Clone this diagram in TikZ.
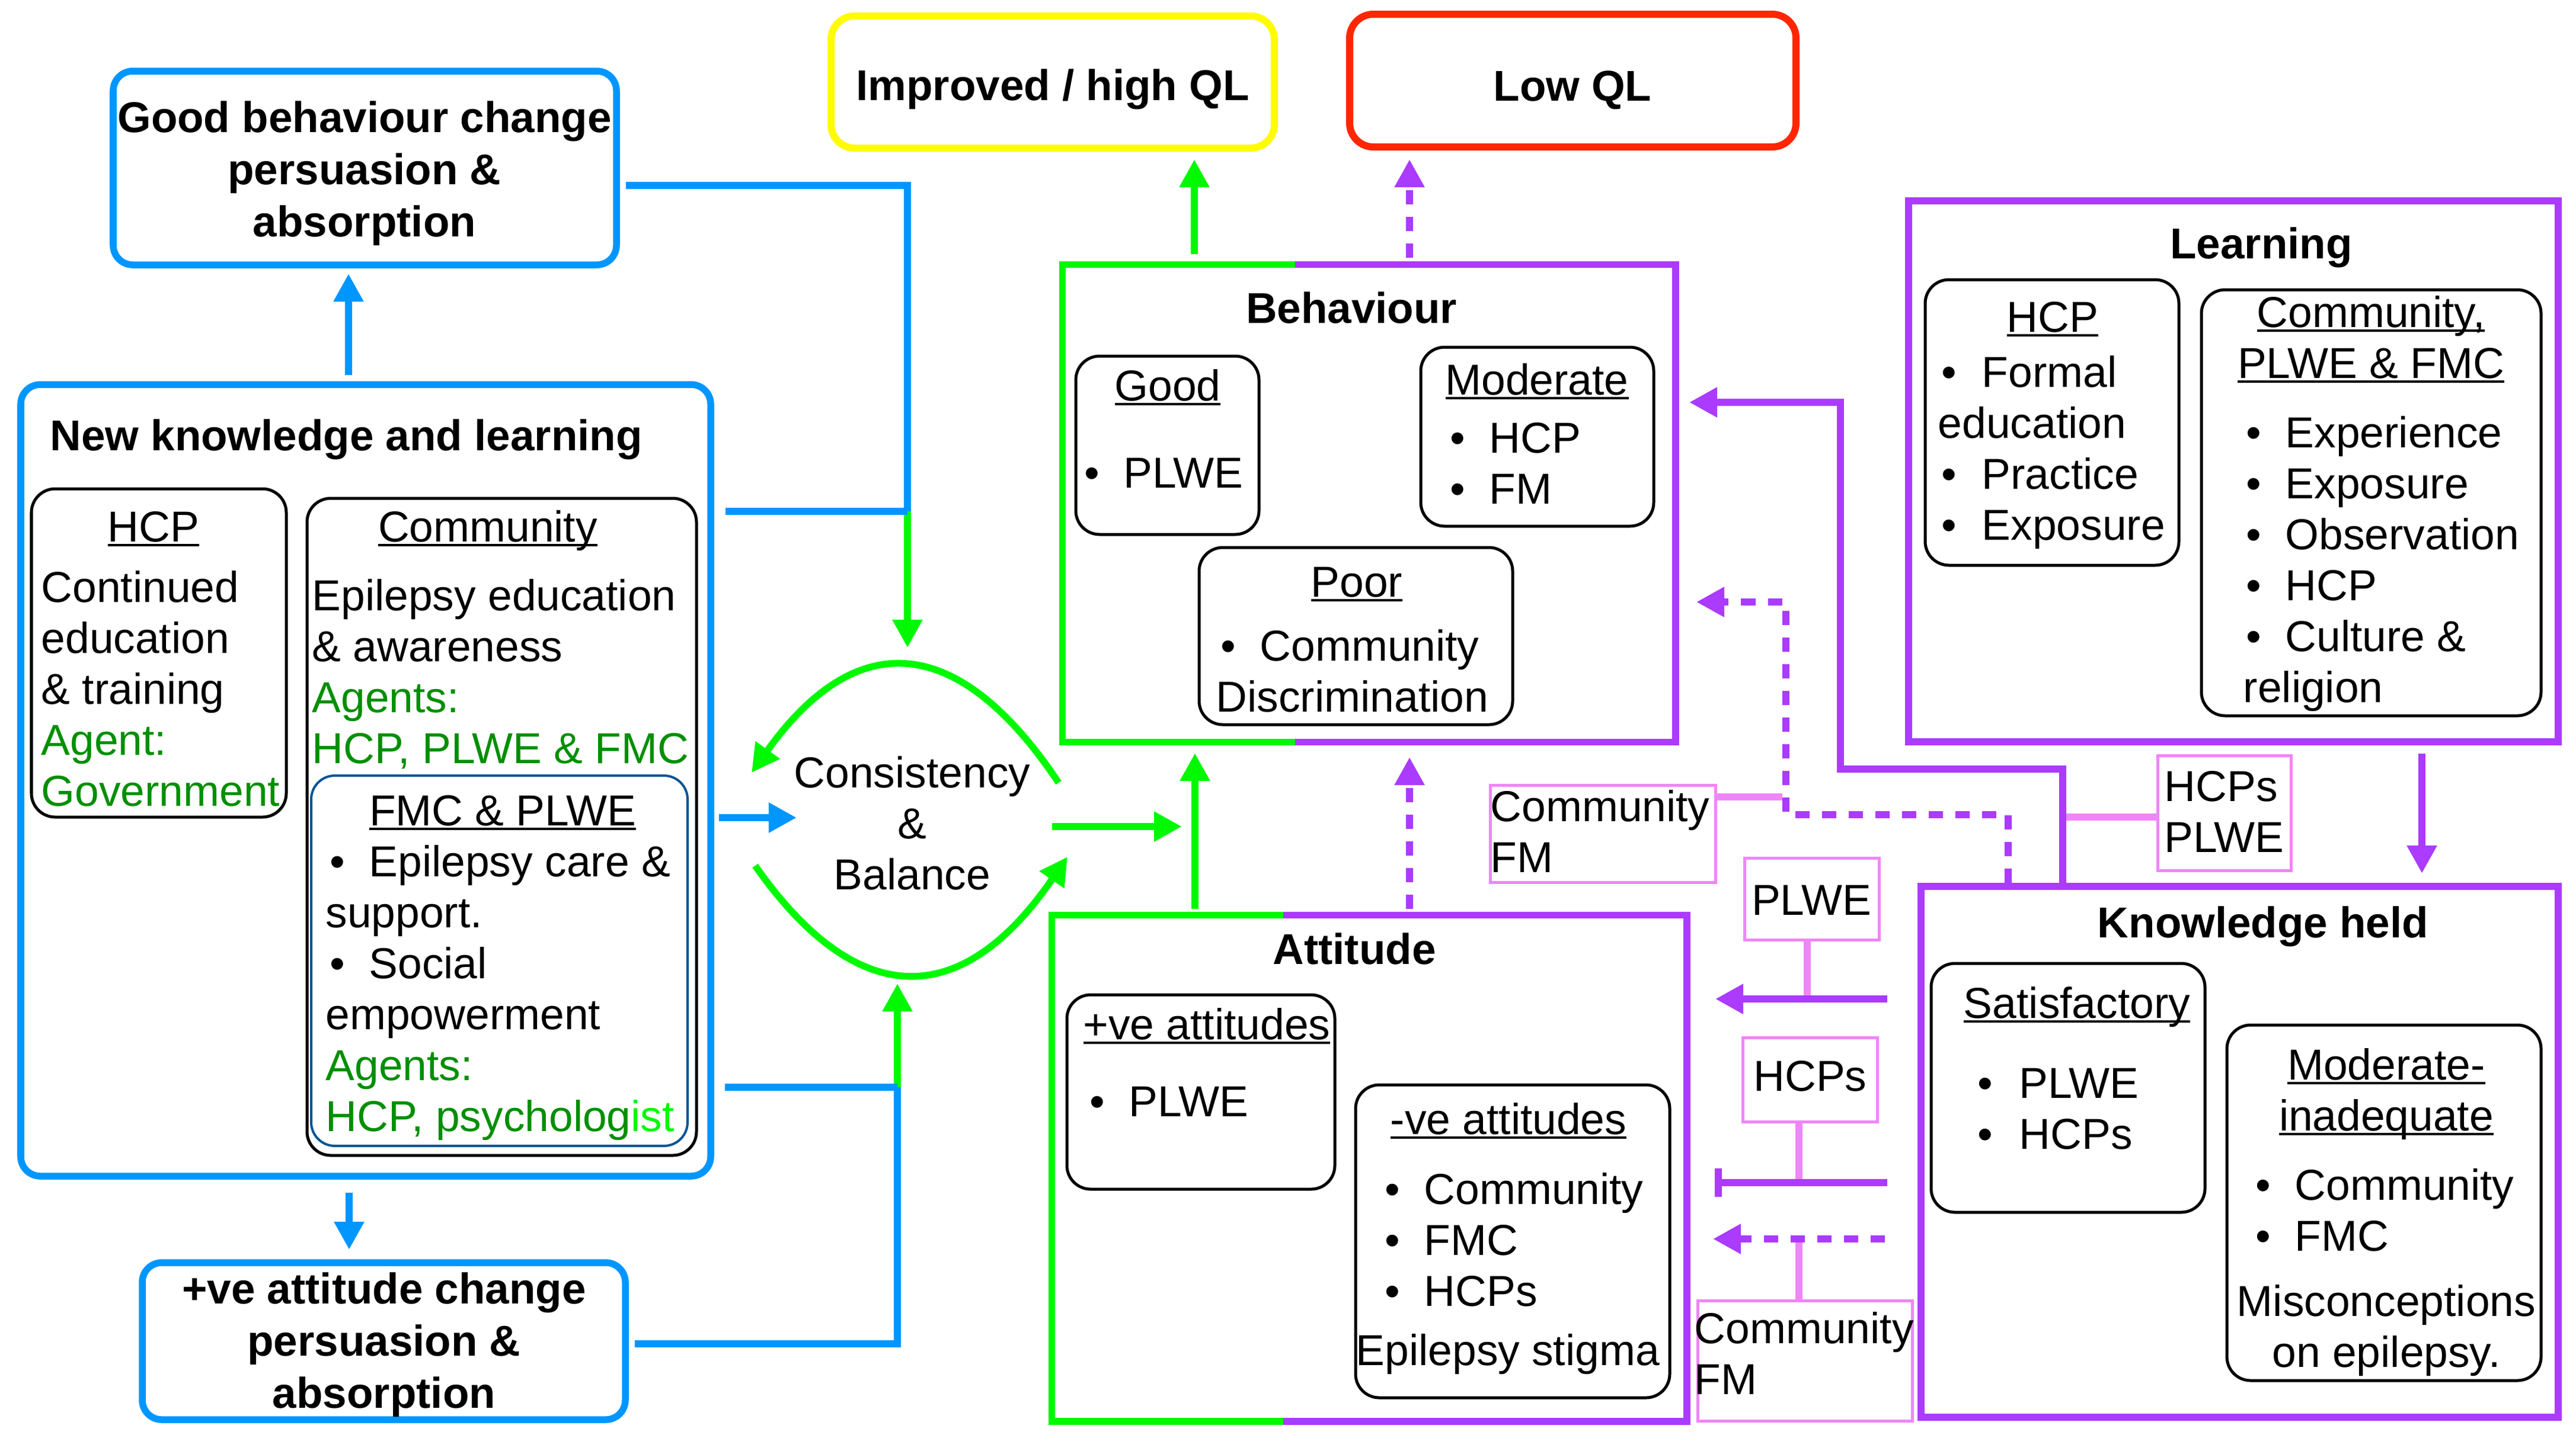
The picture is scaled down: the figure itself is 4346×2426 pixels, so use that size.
\documentclass[tikz,border=0pt]{standalone}
\usepackage{fontspec}
\setmainfont{Liberation Sans}
\usetikzlibrary{arrows.meta,fit}
\definecolor{cblue}{HTML}{0096FF}
\definecolor{cgreen}{HTML}{00F900}
\definecolor{cpurple}{HTML}{AA3BFF}
\definecolor{cpink}{HTML}{EF86F7}
\definecolor{cyellow}{HTML}{FFFB00}
\definecolor{cred}{HTML}{FF2600}
\definecolor{dkgreen}{HTML}{008F00}
\definecolor{ocean}{HTML}{005493}
\newcommand\LB[1]{\vtop{\halign{##\hfil\cr#1\crcr}}}
\newcommand\CB[1]{\vtop{\halign{\hfil##\hfil\cr#1\crcr}}}
\newcommand\myul[1]{\setbox0\hbox{#1}\rlap{\vrule width\wd0 height -1.1pt depth 2.3pt}\box0}
\newcommand\mybl{\makebox[0.66cm][l]{\textbullet}}
\newcommand\myblw[1]{\makebox[#1][l]{\textbullet}}
\newcommand\dgr[1]{{\color{dkgreen}#1}}
\newcommand\lgr[1]{{\color{cgreen}#1}}
\tikzset{
  tx/.style={inner sep=0pt, font=\fontsize{20.8pt}{24.5pt}\selectfont, anchor=base west},
  ctx/.style={tx, anchor=base},
  btx/.style={inner sep=0pt, anchor=base, font=\fontsize{20.7pt}{25.1pt}\selectfont\bfseries},
  bbox/.style={draw=cblue, line width=0.115cm, rounded corners=0.33cm, inner sep=0pt},
  kbox/.style={draw=black, line width=0.05cm, rounded corners=0.4cm, inner sep=0pt},
  pbox/.style={draw=cpink, line width=0.05cm, inner sep=0pt},
  pfr/.style={draw=cpurple, line width=0.115cm, inner sep=0pt},
  frm/.style={inner sep=0pt},
  bline/.style={draw=cblue, line width=0.115cm},
  gline/.style={draw=cgreen, line width=0.115cm},
  pline/.style={draw=cpurple, line width=0.115cm},
  pdash/.style={pline, dash pattern=on 0.24cm off 0.21cm},
  pkline/.style={draw=cpink, line width=0.115cm},
  arr/.style={-{Triangle[length=0.47cm,width=0.48cm]}},
}
\begin{document}
\begin{tikzpicture}[x=0.01cm,y=-0.01cm]
\useasboundingbox (0,0) rectangle (4346,2426);

% ---------- boxes ----------
\node[bbox, fit={(191,120)(1040,447)}] (gb) {};
\node[bbox, fit={(35,649)(1199,1985)}] (nkl) {};
\node[kbox, fit={(53,825)(483,1379)}] (hcpL) {};
\node[kbox, fit={(518,841)(1175,1950)}] (comL) {};
\node[kbox, draw=ocean, line width=0.04cm, fit={(525,1309)(1160,1934)}] (fmc) {};
\node[bbox, fit={(240,2131)(1055,2396)}] (pa) {};
\node[draw=cyellow, line width=0.12cm, rounded corners=0.4cm, inner sep=0pt, fit={(1402,27)(2150,250)}] (imp) {};
\node[draw=cred, line width=0.12cm, rounded corners=0.4cm, inner sep=0pt, fit={(2277,24)(3030,248)}] (low) {};
\node[frm, fit={(1793,447)(2826,1252)}] (beh) {};
\node[kbox, fit={(1815,601)(2124,902)}] (good) {};
\node[kbox, fit={(2397,586)(2790,888)}] (mod) {};
\node[kbox, fit={(2023,924)(2552,1223)}] (poor) {};
\node[frm, fit={(1775,1545)(2845,2398)}] (att) {};
\node[kbox, fit={(1800,1679)(2252,2007)}] (pos) {};
\node[kbox, fit={(2287,1831)(2817,2359)}] (neg) {};
\node[pfr, fit={(3220,339)(4316,1252)}] (lrn) {};
\node[kbox, fit={(3248,472)(3676,954)}] (lhcp) {};
\node[kbox, fit={(3714,489)(4287,1208)}] (lcom) {};
\node[pfr, fit={(3241,1496)(4316,2392)}] (kh) {};
\node[kbox, fit={(3258,1626)(3720,2046)}] (sat) {};
\node[kbox, fit={(3757,1730)(4287,2330)}] (mi) {};
\node[pbox, fit={(2514,1325)(2894,1489)}] (cfa) {};
\node[pbox, fit={(2943,1448)(3170,1586)}] (plw) {};
\node[pbox, fit={(2940,1751)(3167,1893)}] (hcs) {};
\node[pbox, fit={(2864,2195)(3226,2398)}] (cfb) {};
\node[pbox, fit={(3640,1275)(3865,1469)}] (hpl) {};

% two-coloured frames
\coordinate (bsp) at (2185,0);
\draw[gline] (bsp |- beh.north) -- (beh.north west) -- (beh.south west) -- (bsp |- beh.south);
\draw[pline] (bsp |- beh.north) -- (beh.north east) -- (beh.south east) -- (bsp |- beh.south);
\coordinate (asp) at (2165,0);
\draw[gline] (asp |- att.north) -- (att.north west) -- (att.south west) -- (asp |- att.south);
\draw[pline] (asp |- att.north) -- (att.north east) -- (att.south east) -- (asp |- att.south);

% ---------- texts ----------
\node[btx] (tGB) at (615,223) {\CB{Good behaviour change\cr persuasion \&\cr absorption}};
\node[btx, anchor=base west] (tNKL) at (84,760) {New knowledge and learning};
\node[ctx] (tHCPh) at (259,914) {\myul{HCP}};
\node[tx] (tHCPb) at (69,1016) {\LB{Continued\cr education\cr \& training\cr \dgr{Agent:}\cr \dgr{Government}}};
\node[ctx] (tComh) at (823,914) {\myul{Community}};
\node[tx] (tComb) at (526,1030) {\LB{Epilepsy education\cr \& awareness\cr \dgr{Agents:}\cr \dgr{HCP, PLWE \& FMC}}};
\node[ctx] (tFMCh) at (848,1393) {\myul{FMC \& PLWE}};
\node[tx] (tFMCb) at (556,1479) {\LB{\mybl Epilepsy care \&\cr \kern-0.07cm support.\cr \mybl Social\cr \kern-0.07cm empowerment\cr \kern-0.07cm\dgr{Agents:}\cr \kern-0.07cm\dgr{HCP, psycholog}\lgr{ist}}};
\node[btx] (tPA) at (648,2200) {\CB{+ve attitude change\cr persuasion \&\cr absorption}};

\node[btx] (tImp) at (1776,169) {Improved / high QL};
\node[btx] (tLow) at (2653,170) {Low QL};

\node[ctx] (tCB) at (1539,1329) {\CB{Consistency\cr \&\cr Balance}};

\node[btx] (tBeh) at (2280,545) {Behaviour};
\node[ctx] (tGoodh) at (1970,676) {\myul{Good}};
\node[tx] (tGoodb) at (1829,823) {\mybl PLWE};
\node[ctx] (tModh) at (2593,666) {\myul{Moderate}};
\node[tx] (tModb) at (2446,764) {\LB{\mybl HCP\cr \mybl FM}};
\node[ctx] (tPoorh) at (2289,1007) {\myul{Poor}};
\node[tx] (tPoorb) at (2059,1115) {\LB{\mybl Community\cr \kern-0.08cm Discrimination}};

\node[btx] (tAtt) at (2285,1627) {Attitude};
\node[ctx] (tPosh) at (2036,1754) {\myul{+ve attitudes}};
\node[tx] (tPosb) at (1838,1884) {\mybl PLWE};
\node[ctx] (tNegh) at (2545,1914) {\myul{-ve attitudes}};
\node[tx] (tNegb) at (2336,2032) {\LB{\mybl Community\cr \mybl FMC\cr \mybl HCPs}};
\node[tx] (tNegs) at (2287,2304) {Epilepsy stigma};

\node[btx] (tKH) at (3818,1582) {Knowledge held};
\node[ctx] (tSath) at (3504,1718) {\myul{Satisfactory}};
\node[tx] (tSatb) at (3336,1853) {\LB{\myblw{0.70cm}PLWE\cr \myblw{0.70cm}HCPs}};
\node[ctx] (tMIh) at (4026,1822) {\CB{\myul{Moderate-}\cr \myul{inadequate}}};
\node[tx] (tMIb) at (3805,2025) {\LB{\mybl Community\cr \mybl FMC}};
\node[ctx] (tMIm) at (4026,2221) {\CB{Misconceptions\cr on epilepsy.}};

\node[btx] (tLrn) at (3815,436) {Learning};
\node[ctx] (tLHh) at (3463,560) {\myul{HCP}};
\node[tx] (tLHb) at (3275,653) {\LB{\myblw{0.68cm}Formal\cr \kern-0.06cm education\cr \myblw{0.68cm}Practice\cr \myblw{0.68cm}Exposure}};
\node[ctx] (tLCh) at (4000,552) {\CB{\myul{Community,}\cr \myul{PLWE \& FMC}}};
\node[tx] (tLCb) at (3789,755) {\LB{\mybl Experience\cr \mybl Exposure\cr \mybl Observation\cr \mybl HCP\cr \mybl Culture \&\cr \kern-0.05cm religion}};

\node[tx] (tCFa) at (2514,1386) {\LB{Community\cr FM}};
\node[ctx] (tPL) at (3056,1544) {PLWE};
\node[ctx] (tHC) at (3054,1841) {HCPs};
\node[tx] (tCFb) at (2858,2267) {\LB{Community\cr FM}};
\node[tx] (tHP) at (3651,1352) {\LB{HCPs\cr PLWE}};

% ---------- connectors ----------
\coordinate (nklT) at (588,633);   \coordinate (gbB) at (588,462);
\draw[bline,arr] (nklT) -- (gbB);
\coordinate (nklB) at (589,2013);  \coordinate (paT) at (589,2109);
\draw[bline,arr] (nklB) -- (paT);

\coordinate (gbR) at (1056,313);
\coordinate (jA) at (1531,313);
\coordinate (jB) at (1531,863);
\coordinate (nklRa) at (1224,863);
\coordinate (cbT) at (1531,1093);
\draw[gline,arr] (jB) -- (cbT);
\draw[bline] (gbR) -- (jA) -- (jB);
\draw[bline] (nklRa) -- (jB);

\coordinate (nklRb) at (1223,1835);
\coordinate (jC) at (1514,1835);
\coordinate (paR) at (1071,2268);
\coordinate (jD) at (1514,2268);
\coordinate (cbB) at (1514,1660);
\draw[gline,arr] (jC) -- (cbB);
\draw[bline] (nklRb) -- (jC);
\draw[bline] (paR) -- (jD) -- (jC);

\coordinate (nklRc) at (1213,1380); \coordinate (cbL) at (1344,1380);
\draw[bline,arr] (nklRc) -- (cbL);

\coordinate (arcUR) at (1786,1321); \coordinate (arcUL) at (1268,1304);
\draw[gline,arr] (arcUR) .. controls (1615,1065) and (1443,1059) .. (arcUL);
\coordinate (arcLL) at (1274,1461); \coordinate (arcLR) at (1801,1446);
\draw[gline,arr] (arcLL) .. controls (1448,1709) and (1624,1704) .. (arcLR);

\coordinate (cbR) at (1775,1395); \coordinate (cbR2) at (1994,1395);
\draw[gline,arr] (cbR) -- (cbR2);

\coordinate (attT1) at (2016,1534); \coordinate (behB1) at (2016,1271);
\draw[gline,arr] (attT1) -- (behB1);
\coordinate (attT2) at (2378,1534); \coordinate (behB2) at (2378,1278);
\draw[pdash,arr] (attT2) -- (behB2);

\coordinate (behT1) at (2015,429); \coordinate (impB) at (2015,269);
\draw[gline,arr] (behT1) -- (impB);
\coordinate (behT2) at (2378,435); \coordinate (lowB) at (2378,269);
\draw[pdash,arr] (behT2) -- (lowB);

\coordinate (cfaR) at (2896,1345); \coordinate (dJ) at (3007,1345);
\draw[pkline] (cfaR) -- (dJ);
\coordinate (hplL) at (3638,1379); \coordinate (sJ) at (3486,1379);
\draw[pkline] (hplL) -- (sJ);
\coordinate (plwB) at (3049,1586); \coordinate (pJ1) at (3049,1680);
\draw[pkline] (plwB) -- (pJ1);
\coordinate (hcsB) at (3035,1893); \coordinate (pJ2) at (3035,1990);
\draw[pkline] (hcsB) -- (pJ2);
\coordinate (cfbT) at (3035,2195); \coordinate (pJ3) at (3035,2097);
\draw[pkline] (cfbT) -- (pJ3);

\coordinate (khT1) at (3480,1490);
\coordinate (k1) at (3480,1298); \coordinate (k2) at (3105,1298); \coordinate (k3) at (3105,679);
\coordinate (behR1) at (2850,679);
\draw[pline,arr] (khT1) -- (k1) -- (k2) -- (k3) -- (behR1);
\coordinate (khT2) at (3388,1490);
\coordinate (d1) at (3388,1375); \coordinate (d2) at (3013,1375); \coordinate (d3) at (3013,1016);
\coordinate (behR2) at (2862,1016);
\draw[pdash,arr] (khT2) -- (d1) -- (d2) -- (d3) -- (behR2);

\coordinate (khL1) at (3184,1686); \coordinate (attR1) at (2894,1686);
\draw[pline,arr] (khL1) -- (attR1);
\coordinate (khL2) at (3184,1996); \coordinate (attR2) at (2893,1996);
\draw[pline,-{Bar[width=0.48cm]}] (khL2) -- (attR2);
\coordinate (khL3) at (3180,2091); \coordinate (attR3) at (2890,2091);
\draw[pdash,arr] (khL3) -- (attR3);

\coordinate (lrnB) at (4086,1272); \coordinate (khT3) at (4086,1474);
\draw[pline,arr] (lrnB) -- (khT3);
\end{tikzpicture}
\end{document}
